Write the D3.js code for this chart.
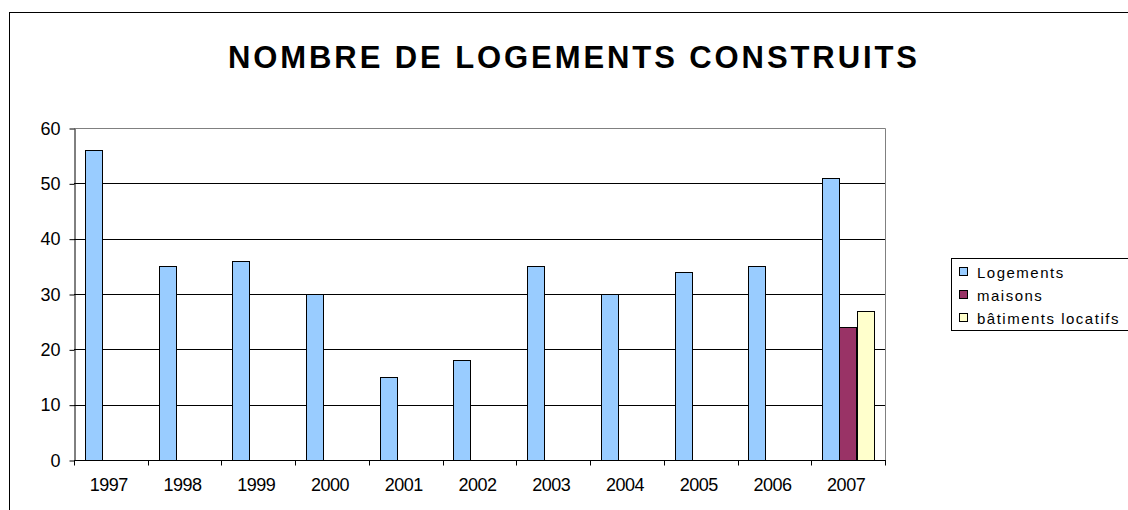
<!DOCTYPE html>
<html>
<head>
<meta charset="utf-8">
<script src="https://cdnjs.cloudflare.com/ajax/libs/d3/7.8.5/d3.min.js"></script>
<style>
  body { margin: 0; background: #fff; }
  svg { display: block; font-family: "Liberation Sans", Arial, sans-serif; }
</style>
</head>
<body>
<div id="chart"></div>
<script>
// data
var years = ["1997", "1998", "1999", "2000", "2001", "2002", "2003", "2004", "2005", "2006", "2007"];
var logements = [56, 35, 36, 30, 15, 18, 35, 30, 34, 35, 51];
var maisons = [null, null, null, null, null, null, null, null, null, null, 24];
var batiments = [null, null, null, null, null, null, null, null, null, null, 27];
var seriesNames = ["Logements", "maisons", "bâtiments locatifs"];
var seriesColors = ["#99ccff", "#993366", "#ffffcc"];
var yTicks = [0, 10, 20, 30, 40, 50, 60];
var title = "NOMBRE DE LOGEMENTS CONSTRUITS";

var width = 1128,
    height = 510;

var plot = {left: 74, right: 885, top: 128, bottom: 460};

var svg = d3.select("#chart").append("svg")
    .attr("width", width)
    .attr("height", height);

// chart frame (runs off the right and bottom)
svg.append("rect")
    .attr("x", 9.5)
    .attr("y", 12.5)
    .attr("width", 1140)
    .attr("height", 520)
    .attr("fill", "#fff")
    .attr("stroke", "#000");

svg.append("text")
    .attr("x", 228)
    .attr("y", 68)
    .attr("textLength", 689)
    .attr("lengthAdjust", "spacing")
    .style("font-size", "31px")
    .style("font-weight", "bold")
    .text(title);

var x0 = d3.scaleBand()
    .domain(years)
    .range([plot.left, plot.right])
    .paddingInner(0)
    .paddingOuter(0);

var x1 = d3.scaleBand()
    .domain(seriesNames)
    .range([0, x0.bandwidth()])
    .paddingInner(0)
    .paddingOuter(0.62);

var y = d3.scaleLinear()
    .domain([0, 60])
    .range([plot.bottom, plot.top]);

// gridlines
svg.append("g").selectAll("line")
    .data(yTicks.filter(function(d) { return d > 0 && d < 60; }))
    .enter().append("line")
    .attr("x1", plot.left)
    .attr("x2", plot.right)
    .attr("y1", function(d) { return Math.round(y(d)) + 0.5; })
    .attr("y2", function(d) { return Math.round(y(d)) + 0.5; })
    .attr("stroke", "#000");

// plot area border (top / right)
svg.append("path")
    .attr("d", "M" + plot.left + "," + (plot.top + 0.5) + "H" + (plot.right + 0.5) + "V" + plot.bottom)
    .attr("fill", "none")
    .attr("stroke", "#808080");

// bars
var seriesData = [logements, maisons, batiments];
seriesData.forEach(function(vals, si) {
    svg.append("g").selectAll("rect")
        .data(vals.map(function(v, i) { return {year: years[i], value: v}; })
            .filter(function(d) { return d.value != null; }))
        .enter().append("rect")
        .attr("x", function(d) { return Math.round(x0(d.year) + x1(seriesNames[si])) + 0.5; })
        .attr("y", function(d) { return Math.round(y(d.value)) + 0.5; })
        .attr("width", Math.round(x1.bandwidth()))
        .attr("height", function(d) { return Math.round(y(0)) - Math.round(y(d.value)); })
        .attr("fill", seriesColors[si])
        .attr("stroke", "#000");
});

// y axis
var yAxis = svg.append("g")
    .attr("transform", "translate(" + (plot.left + 0.5) + ",0.5)")
    .call(d3.axisLeft(y).tickValues(yTicks).tickSize(5).tickPadding(9).tickSizeOuter(0));
yAxis.select(".domain").attr("stroke", "#000");
yAxis.selectAll("text").style("font-size", "18px").style("font-family", "Liberation Sans, Arial").attr("fill", "#000");

// x axis: ticks on category boundaries
var xAxis = svg.append("g")
    .attr("transform", "translate(0," + (plot.bottom + 0.5) + ")");
xAxis.append("line")
    .attr("x1", plot.left)
    .attr("x2", plot.right + 1)
    .attr("stroke", "#000");
xAxis.selectAll(".tk")
    .data(years.concat(["end"]))
    .enter().append("line")
    .attr("class", "tk")
    .attr("x1", function(d, i) { return Math.round(plot.left + i * x0.step()) + 0.5; })
    .attr("x2", function(d, i) { return Math.round(plot.left + i * x0.step()) + 0.5; })
    .attr("y1", 0)
    .attr("y2", 5)
    .attr("stroke", "#000");
xAxis.selectAll("text")
    .data(years)
    .enter().append("text")
    .attr("x", function(d) { return x0(d) + x0.bandwidth() / 2 - 2; })
    .attr("y", 30)
    .attr("text-anchor", "middle")
    .style("font-size", "18px")
    .style("letter-spacing", "-0.5px")
    .text(function(d) { return d; });

// legend
var legend = svg.append("g");
legend.append("rect")
    .attr("x", 951.5)
    .attr("y", 258.5)
    .attr("width", 200)
    .attr("height", 72)
    .attr("fill", "#fff")
    .attr("stroke", "#000");

var items = legend.selectAll(".item")
    .data(seriesNames)
    .enter().append("g")
    .attr("class", "item")
    .attr("transform", function(d, i) { return "translate(0," + (272 + i * 23) + ")"; });
items.append("rect")
    .attr("x", 959.5)
    .attr("y", -4.5)
    .attr("width", 8)
    .attr("height", 8)
    .attr("fill", function(d, i) { return seriesColors[i]; })
    .attr("stroke", "#000");
items.append("text")
    .attr("x", 977)
    .attr("y", 5.5)
    .style("font-size", "15px")
    .style("letter-spacing", "1.5px")
    .text(function(d) { return d; });
</script>
</body>
</html>
